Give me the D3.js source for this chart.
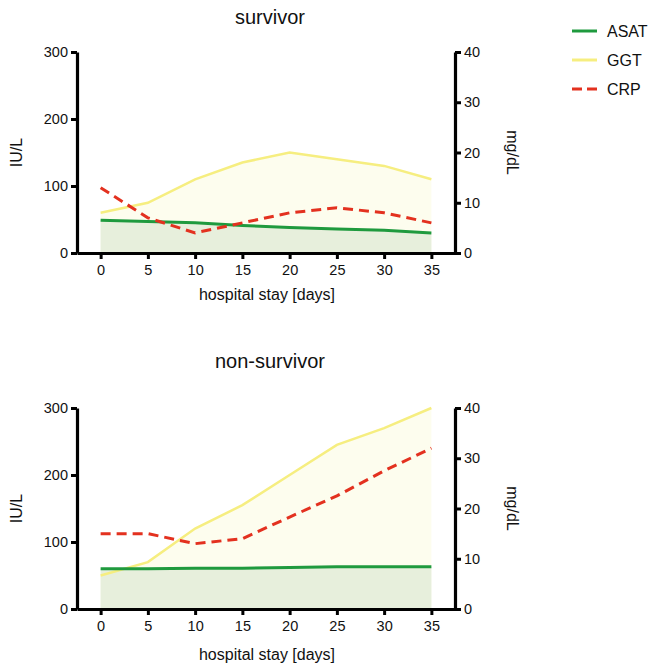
<!DOCTYPE html>
<html>
<head>
<meta charset="utf-8">
<script src="https://cdn.jsdelivr.net/npm/d3@7"></script>
<style>
  body { margin: 0; background: #fff; }
  text { font-family: "Liberation Sans", Arial, Helvetica, sans-serif; fill: #111; }
</style>
</head>
<body>
<div id="chart"></div>
<script>
// hospital stay days
const days = [0, 5, 10, 15, 20, 25, 30, 35];

// survivor values (ASAT, GGT in IU/L, CRP in mg/dL)
const survAsat = [49, 47, 45, 41, 38, 36, 34, 30];
const survGgt = [60, 75, 110, 135, 150, 140, 130, 110];
const survCrp = [13, 7, 4, 6, 8, 9, 8, 6];

// non-survivor values
const nonAsat = [60, 60, 61, 61, 62, 63, 63, 63];
const nonGgt = [50, 70, 120, 155, 200, 245, 270, 300];
const nonCrp = [15, 15, 13, 14, 18.3, 22.5, 27.5, 32];

const leftTicks = [0, 100, 200, 300];
const rightTicks = [0, 10, 20, 30, 40];

const seriesNames = ["ASAT", "GGT", "CRP"];
const colors = { ASAT: "#1f9a3e", GGT: "#f6ee80", CRP: "#e3311f" };

const W = 650, H = 666;
const svg = d3.select("#chart").append("svg")
    .attr("width", W)
    .attr("height", H);

const x = d3.scaleLinear().domain([-2.5, 37.5]).range([77, 455]);

// draw one panel
function panel(title, asat, ggt, crp, top, bottom, titleY, xTitleY) {
    const yL = d3.scaleLinear().domain([0, 300]).range([bottom, top]);
    const yR = d3.scaleLinear().domain([0, 40]).range([bottom, top]);
    const g = svg.append("g");

    // filled areas
    const areaL = d3.area().x((d, i) => x(days[i])).y0(yL(0)).y1(d => yL(d));
    g.append("path").datum(ggt).attr("d", areaL).attr("fill", "#fdfdee");
    g.append("path").datum(asat).attr("d", areaL).attr("fill", "#e7efdc");

    const lineL = d3.line().x((d, i) => x(days[i])).y(d => yL(d));
    const lineR = d3.line().x((d, i) => x(days[i])).y(d => yR(d));

    g.append("path").datum(ggt).attr("d", lineL)
        .attr("fill", "none").attr("stroke", colors.GGT).attr("stroke-width", 2.5);
    g.append("path").datum(asat).attr("d", lineL)
        .attr("fill", "none").attr("stroke", colors.ASAT).attr("stroke-width", 3);
    g.append("path").datum(crp).attr("d", lineR)
        .attr("fill", "none").attr("stroke", colors.CRP).attr("stroke-width", 3)
        .attr("stroke-dasharray", "10,6");

    // axes
    const ax = g.append("g").attr("transform", `translate(0,${bottom})`)
        .call(d3.axisBottom(x).tickValues(days).tickSize(6).tickSizeOuter(0).tickPadding(6));
    const al = g.append("g").attr("transform", `translate(${x.range()[0]},0)`)
        .call(d3.axisLeft(yL).tickValues(leftTicks).tickSize(6).tickSizeOuter(0).tickPadding(3));
    const ar = g.append("g").attr("transform", `translate(${x.range()[1]},0)`)
        .call(d3.axisRight(yR).tickValues(rightTicks).tickSize(6).tickSizeOuter(0).tickPadding(3));
    [ax, al, ar].forEach(a => {
        a.select(".domain").attr("stroke", "#000").attr("stroke-width", 3.2);
        a.selectAll(".tick line").attr("stroke", "#000").attr("stroke-width", 3);
        a.selectAll(".tick text").style("font-size", "14.5px").attr("fill", "#111");
    });

    // titles
    g.append("text").attr("x", 270).attr("y", titleY)
        .attr("text-anchor", "middle").style("font-size", "20px").text(title);
    g.append("text").attr("x", 267).attr("y", xTitleY)
        .attr("text-anchor", "middle").style("font-size", "16px").text("hospital stay [days]");
    g.append("text")
        .attr("transform", `translate(22,${(top + bottom) / 2}) rotate(-90)`)
        .attr("text-anchor", "middle").style("font-size", "16px").text("IU/L");
    g.append("text")
        .attr("transform", `translate(507,${(top + bottom) / 2}) rotate(90)`)
        .attr("text-anchor", "middle").style("font-size", "16px").text("mg/dL");
}

panel("survivor", survAsat, survGgt, survCrp, 52, 253, 24, 300);
panel("non-survivor", nonAsat, nonGgt, nonCrp, 408, 609, 368, 660);

// legend
const leg = svg.append("g");
seriesNames.forEach((name, i) => {
    const ly = 31 + i * 29;
    leg.append("line").attr("x1", 572).attr("x2", 597).attr("y1", ly).attr("y2", ly)
        .attr("stroke", colors[name]).attr("stroke-width", 3)
        .attr("stroke-dasharray", name === "CRP" ? "10,5" : null);
    leg.append("text").attr("x", 607).attr("y", ly + 5.5)
        .style("font-size", "16px").text(name);
});
</script>
</body>
</html>
